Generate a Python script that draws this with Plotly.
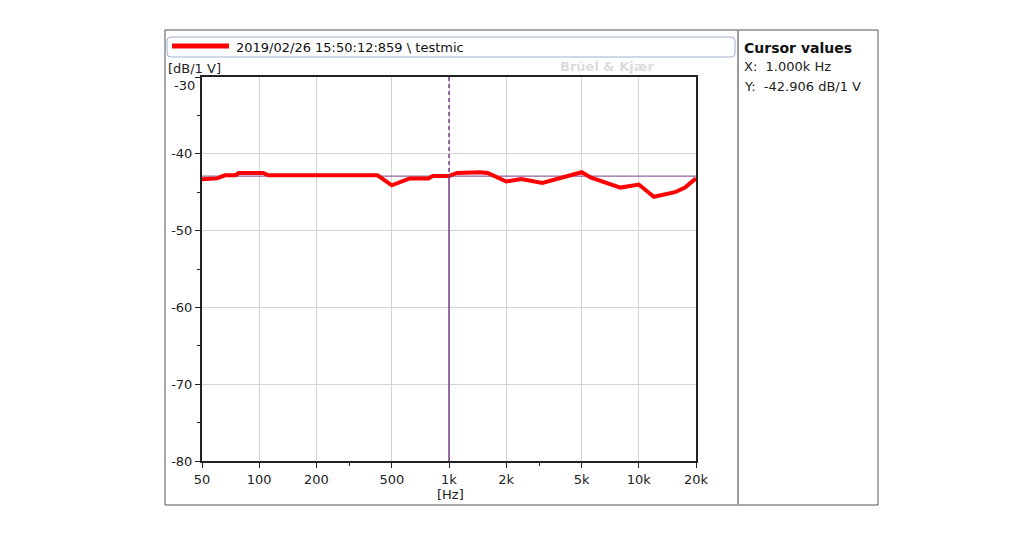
import math
import plotly.graph_objects as go

# ---- data ----
freq_hz = [50, 60, 66, 75, 78, 105, 112, 200, 300, 420, 500, 620, 780, 820, 1000,
           1100, 1450, 1600, 2000, 2400, 3100, 3800, 5000, 5600, 8000, 10000,
           12000, 15500, 17500, 20000]
level_db = [-43.3, -43.2, -42.8, -42.8, -42.5, -42.5, -42.8, -42.8, -42.8, -42.8, -44.1,
            -43.2, -43.2, -42.9, -42.9, -42.5, -42.4, -42.5, -43.6, -43.3, -43.8,
            -43.2, -42.4, -43.1, -44.4, -44.0, -45.6, -45.0, -44.4, -43.2]
x_tickvals = [50, 100, 200, 500, 1000, 2000, 5000, 10000, 20000]
x_ticktext = ["50", "100", "200", "500", "1k", "2k", "5k", "10k", "20k"]
y_tickvals = [-30, -40, -50, -60, -70, -80]
y_ticktext = ["", "-40", "-50", "-60", "-70", "-80"]   # "-30" drawn lower, as in the reference
cursor_x = 1000
cursor_y = -42.906
series_name = "2019/02/26 15:50:12:859 \\ testmic"

FONT = "DejaVu Sans"
PURPLE = "#7a3c8c"

# page offset of the plotly div (body margin)
OFF = 8
# plot area in page pixels
L, R, T, B = 202, 696, 77, 461
W, H = 1024 - OFF, 548 - OFF


def px(x):
    return (x - L) / (R - L)


def py(y):
    return (B - y) / (B - T)


fig = go.Figure()

# horizontal cursor line
fig.add_trace(go.Scatter(x=[freq_hz[0], freq_hz[-1]], y=[cursor_y, cursor_y], mode="lines",
                         line=dict(color=PURPLE, width=1), hoverinfo="skip", showlegend=False))
# measured curve
fig.add_trace(go.Scatter(x=freq_hz, y=level_db, mode="lines", name=series_name,
                         line=dict(color="#ff0000", width=4), showlegend=False))
# vertical cursor: dashed above, solid below
fig.add_trace(go.Scatter(x=[cursor_x, cursor_x], y=[-30, cursor_y], mode="lines",
                         line=dict(color=PURPLE, width=1.5, dash="4px,3px"), hoverinfo="skip",
                         showlegend=False))
fig.add_trace(go.Scatter(x=[cursor_x, cursor_x], y=[cursor_y, -80], mode="lines",
                         line=dict(color=PURPLE, width=1.5), hoverinfo="skip", showlegend=False))

fig.update_xaxes(type="log", range=[math.log10(50), math.log10(20000)],
                 tickvals=x_tickvals, ticktext=x_ticktext,
                 showgrid=True, gridcolor="#d4d4d4", gridwidth=1,
                 showline=True, linecolor="#222", linewidth=2, mirror=True,
                 ticks="outside", ticklen=5, tickcolor="#222",
                 minor=dict(tickvals=[300, 3000], ticks="outside", ticklen=3,
                            tickcolor="#222", showgrid=False),
                 tickfont=dict(family=FONT, size=13, color="#222"), zeroline=False)
fig.update_yaxes(range=[-80, -30], tickvals=y_tickvals, ticktext=y_ticktext,
                 showgrid=True, gridcolor="#d4d4d4", gridwidth=1,
                 showline=True, linecolor="#222", linewidth=2, mirror=True,
                 ticks="outside", ticklen=5, tickcolor="#222",
                 minor=dict(dtick=5, ticks="outside", ticklen=3, tickcolor="#222",
                            showgrid=False),
                 tickfont=dict(family=FONT, size=13, color="#222"), zeroline=False)


def rounded_rect(x0, y0, x1, y1, r):
    # path in paper coordinates built from page pixels (y down)
    pts = [
        f"M {px(x0 + r)},{py(y0)}", f"L {px(x1 - r)},{py(y0)}",
        f"Q {px(x1)},{py(y0)} {px(x1)},{py(y0 + r)}", f"L {px(x1)},{py(y1 - r)}",
        f"Q {px(x1)},{py(y1)} {px(x1 - r)},{py(y1)}", f"L {px(x0 + r)},{py(y1)}",
        f"Q {px(x0)},{py(y1)} {px(x0)},{py(y1 - r)}", f"L {px(x0)},{py(y0 + r)}",
        f"Q {px(x0)},{py(y0)} {px(x0 + r)},{py(y0)}", "Z",
    ]
    return " ".join(pts)


shapes = [
    # outer frame
    dict(type="rect", xref="paper", yref="paper", x0=px(165), x1=px(878), y0=py(505), y1=py(30),
         line=dict(color="#555", width=1), layer="below"),
    # divider to cursor panel
    dict(type="line", xref="paper", yref="paper", x0=px(738), x1=px(738), y0=py(505), y1=py(30),
         line=dict(color="#999", width=2)),
    # legend box
    dict(type="path", xref="paper", yref="paper", path=rounded_rect(167, 37, 735, 57, 4),
         line=dict(color="#9fb0cc", width=1)),
    # legend line sample
    dict(type="line", xref="paper", yref="paper", x0=px(172), x1=px(229), y0=py(46), y1=py(46),
         line=dict(color="#ff0000", width=5)),
]

ann = [
    dict(text=series_name, x=px(234), y=py(47), xanchor="left", yanchor="middle",
         font=dict(family=FONT, size=13, color="#111")),
    dict(text="[dB/1 V]", x=px(166), y=py(68), xanchor="left", yanchor="middle",
         font=dict(family=FONT, size=13, color="#222")),
    dict(text=str(y_tickvals[0]), x=px(197), y=py(85), xanchor="right", yanchor="middle",
         font=dict(family=FONT, size=13, color="#222")),
    dict(text="<b>Brüel & Kjær</b>", x=px(558), y=py(67), xanchor="left", yanchor="middle",
         font=dict(family=FONT, size=13, color="#dcdcdc")),
    dict(text="[Hz]", x=px(450), y=py(494), xanchor="center", yanchor="middle",
         font=dict(family=FONT, size=13, color="#222")),
    dict(text="<b>Cursor values</b>", x=px(742), y=py(48), xanchor="left", yanchor="middle",
         font=dict(family=FONT, size=14, color="#111")),
    dict(text="X:  1.000k Hz", x=px(742), y=py(67), xanchor="left", yanchor="middle",
         font=dict(family=FONT, size=13, color="#222")),
    dict(text="Y:  -42.906 dB/1 V", x=px(742), y=py(86), xanchor="left", yanchor="middle",
         font=dict(family=FONT, size=13, color="#222")),
]
for a in ann:
    a.update(xref="paper", yref="paper", showarrow=False)

fig.update_layout(width=W, height=H,
                  margin=dict(l=L - OFF, r=W - (R - OFF), t=T - OFF, b=H - (B - OFF), pad=0),
                  paper_bgcolor="white", plot_bgcolor="white", showlegend=False,
                  shapes=shapes, annotations=ann)

fig.write_html("out.html")
